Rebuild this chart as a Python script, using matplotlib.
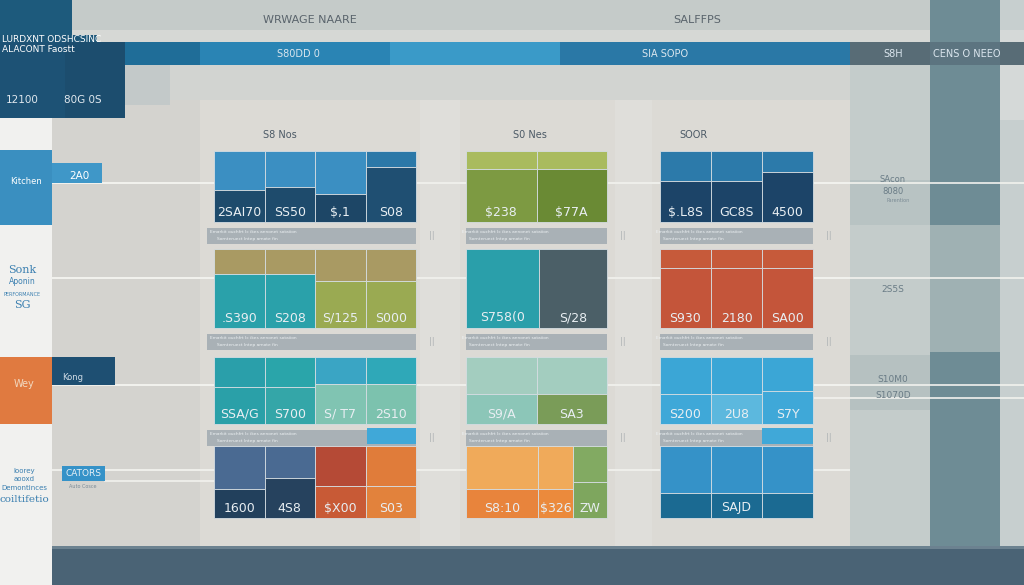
import matplotlib
matplotlib.use('Agg')
import matplotlib.pyplot as plt
from matplotlib.patches import Rectangle

# Dados dos painéis (linha, coluna): rótulos, parte inferior (%), larguras relativas, cores
panel_labels = {
    (0, 0): ['2SAI70', 'SS50', '$,1', 'S08'],
    (0, 1): ['$238', '$77A'],
    (0, 2): ['$.L8S', 'GC8S', '4500'],
    (1, 0): ['.S390', 'S208', 'S/125', 'S000'],
    (1, 1): ['S758(0', 'S/28'],
    (1, 2): ['S930', '2180', 'SA00'],
    (2, 0): ['SSA/G', 'S700', 'S/ T7', '2S10'],
    (2, 1): ['S9/A', 'SA3'],
    (2, 2): ['S200', '2U8', 'S7Y'],
    (3, 0): ['1600', '4S8', '$X00', 'S03'],
    (3, 1): ['S8:10', '$326', 'ZW'],
    (3, 2): ['', 'SAJD', ''],
}
panel_lower = {
    (0, 0): [45, 49, 40, 78],
    (0, 1): [74, 74],
    (0, 2): [58, 58, 70],
    (1, 0): [68, 68, 60, 60],
    (1, 1): [100, 100],
    (1, 2): [76, 76, 76],
    (2, 0): [55, 55, 60, 60],
    (2, 1): [45, 45],
    (2, 2): [45, 45, 50],
    (3, 0): [40, 55, 45, 45],
    (3, 1): [40, 40, 50],
    (3, 2): [35, 35, 35],
}
panel_widths = {
    (1, 1): [0.52, 0.48],
    (3, 1): [0.51, 0.25, 0.24],
}
panel_top_colors = {
    (0, 0): ['#3b8fc2', '#3b8fc2', '#3b8fc2', '#2b78a8'],
    (0, 1): ['#a9bb5e', '#a9bb5e'],
    (0, 2): ['#2c7aaa', '#2c7aaa', '#2c7aaa'],
    (1, 0): ['#a99a63', '#a99a63', '#a99a63', '#a99a63'],
    (1, 1): ['#2a9faa', '#4b5f67'],
    (1, 2): ['#c65a3a', '#c65a3a', '#c65a3a'],
    (2, 0): ['#2a9faa', '#2aa5aa', '#3aa5c4', '#2fa8b8'],
    (2, 1): ['#a3cdbf', '#a3cdbf'],
    (2, 2): ['#3ba6d6', '#3ba6d6', '#3ba6d6'],
    (3, 0): ['#4a6a92', '#4a6a92', '#b54a36', '#e07c3a'],
    (3, 1): ['#f0aa5a', '#f0aa5a', '#82aa62'],
    (3, 2): ['#3592c8', '#3592c8', '#3592c8'],
}
panel_bottom_colors = {
    (0, 0): ['#1e4b6c', '#1e4b6c', '#1d4666', '#1f4f72'],
    (0, 1): ['#7d9a42', '#6a8a34'],
    (0, 2): ['#1c4468', '#1c4468', '#1c4468'],
    (1, 0): ['#2aa1aa', '#2aa1aa', '#9aaa52', '#9aaa52'],
    (1, 1): ['#2a9faa', '#4b5f67'],
    (1, 2): ['#c4553a', '#c4553a', '#c4553a'],
    (2, 0): ['#2aa0a8', '#34a6a8', '#80c4b2', '#7cc2ae'],
    (2, 1): ['#8cc6b8', '#7a9c58'],
    (2, 2): ['#3fa8d8', '#5cb8de', '#3fa8d8'],
    (3, 0): ['#22405c', '#26425e', '#c85a36', '#e2823c'],
    (3, 1): ['#e8843c', '#eb8a3c', '#7ea65e'],
    (3, 2): ['#1b6a92', '#1b6a92', '#1b6a92'],
}

col_titles = ['S8 Nos', 'S0 Nes', 'SOOR']
header_titles = ['WRWAGE NAARE', 'SALFFPS']
header_bar_texts = ['S80DD 0', 'SIA SOPO', 'S8H', 'CENS O NEEO']
right_texts = ['SAcon', '8080', '2S5S', 'S10M0', 'S1070D']
left_texts = ['Kitchen', 'Sonk', 'Aponin', 'PERFORMANCE', 'SG', 'Wey',
              'Ioorey', 'aooxd', 'Demontinces', 'coiltifetio']

# Layout em pixels
COL_X = [(214, 416), (466, 607), (660, 813)]
ROW_Y = [(151, 222), (249, 328), (357, 424), (446, 518)]

fig = plt.figure(figsize=(10.24, 5.85), dpi=100)
ax = fig.add_axes([0, 0, 1, 1])
ax.set_xlim(0, 1024)
ax.set_ylim(585, 0)
ax.axis('off')

def rect(x0, y0, x1, y1, color, z=1, **kw):
    ax.add_patch(Rectangle((x0, y0), x1 - x0, y1 - y0, facecolor=color,
                           edgecolor='none', zorder=z, **kw))

# Fundo
rect(0, 0, 1024, 585, '#dcdad5', 0)
rect(0, 0, 1024, 30, '#c5cbc9', 0.5)
rect(0, 30, 1024, 42, '#d6d8d5', 0.5)
rect(125, 65, 1024, 100, '#d2d4d1', 0.5)
rect(125, 65, 170, 105, '#c3c9c9', 0.6)
for yy in [183, 278, 385, 470]:
    rect(52, yy - 1, 1024, yy + 1, '#eeeeea', 0.7)
rect(52, 100, 200, 548, '#d4d3cf', 0.55)
rect(420, 100, 460, 548, '#dfdeda', 0.55)
rect(615, 100, 652, 548, '#dfdeda', 0.55)

# Colunas à direita
rect(850, 65, 930, 548, '#c4cccb', 0.8)
rect(850, 180, 930, 225, '#b8c3c3', 0.85)
rect(850, 355, 930, 410, '#b6c1c1', 0.85)
rect(930, 0, 1000, 585, '#6e8c95', 0.9)
rect(930, 225, 1000, 352, '#9fb1b3', 0.95)
rect(1000, 0, 1024, 585, '#c7cfcf', 0.9)
rect(1000, 30, 1024, 120, '#d5d9d8', 0.95)

# Barra do cabeçalho
rect(0, 42, 560, 65, '#1f6d98', 2)
rect(200, 42, 560, 65, '#2a84b4', 2.1)
rect(390, 42, 560, 65, '#3a9ac8', 2.2)
rect(560, 42, 850, 65, '#2a78a6', 2)
rect(850, 42, 1024, 65, '#586c76', 2)
rect(930, 42, 1000, 65, '#5c7480', 2.1)

# Bloco superior esquerdo
rect(0, 0, 72, 42, '#1d5a7c', 2)
rect(0, 35, 97, 45, '#1c5678', 2.3)
rect(0, 42, 125, 118, '#1c4d6e', 2.4)
rect(0, 42, 65, 118, '#1d5275', 2.5)
ax.text(2, 39, 'LURDXNT ODSHCSINC', color='white', fontsize=6.5, va='center', zorder=5)
ax.text(2, 50, 'ALACONT Faostt', color='white', fontsize=6.5, va='center', zorder=5)
ax.text(22, 100, '12100', color='#e0e8ee', fontsize=7.5, va='center', ha='center', zorder=5)
ax.text(83, 100, '80G 0S', color='#e0e8ee', fontsize=7.5, va='center', ha='center', zorder=5)

# Títulos
ax.text(310, 20, header_titles[0], color='#5a646c', fontsize=8, ha='center', va='center', zorder=5)
ax.text(697, 20, header_titles[1], color='#5a646c', fontsize=8, ha='center', va='center', zorder=5)
for x, t in zip([298, 665, 893, 967], header_bar_texts):
    ax.text(x, 54, t, color='#dbe6ee', fontsize=7, ha='center', va='center', zorder=5)
for x, t in zip([280, 530, 693], col_titles):
    ax.text(x, 135, t, color='#4c5a66', fontsize=7, ha='center', va='center', zorder=5)

# Coluna branca à esquerda e caixas
rect(0, 118, 52, 585, '#f1f1ef', 1.5)
rect(0, 150, 52, 225, '#3a8fc0', 3)
rect(52, 163, 102, 183, '#3f97c8', 3)
rect(0, 357, 52, 424, '#e07a40', 3)
rect(52, 357, 115, 385, '#1e4f72', 3)
rect(62, 466, 105, 481, '#3592c8', 3)
ax.text(26, 181, left_texts[0], color='white', fontsize=6, ha='center', va='center', zorder=5)
ax.text(79, 176, '2A0', color='white', fontsize=7.5, ha='center', va='center', zorder=5)
ax.text(22, 270, left_texts[1], color='#3a7fb0', fontsize=8, ha='center', va='center', zorder=5, family='DejaVu Serif')
ax.text(22, 282, left_texts[2], color='#3a7fb0', fontsize=5.5, ha='center', va='center', zorder=5)
ax.text(22, 294, left_texts[3], color='#3a7fb0', fontsize=3.5, ha='center', va='center', zorder=5)
ax.text(22, 305, left_texts[4], color='#3a7fb0', fontsize=8, ha='center', va='center', zorder=5, family='DejaVu Serif')
ax.text(24, 384, left_texts[5], color='#f2d9c0', fontsize=7, ha='center', va='center', zorder=5)
ax.text(73, 378, 'Kong', color='#d0dce6', fontsize=6, ha='center', va='center', zorder=5)
ax.text(24, 471, left_texts[6], color='#3a7fb0', fontsize=5, ha='center', va='center', zorder=5)
ax.text(24, 479, left_texts[7], color='#3a7fb0', fontsize=5, ha='center', va='center', zorder=5)
ax.text(24, 488, left_texts[8], color='#3a7fb0', fontsize=5, ha='center', va='center', zorder=5)
ax.text(24, 499, left_texts[9], color='#3a7fb0', fontsize=7.5, ha='center', va='center', zorder=5, family='DejaVu Serif')
ax.text(83, 474, 'CATORS', color='#e8f0f6', fontsize=6.5, ha='center', va='center', zorder=5)
ax.text(83, 487, 'Auto Cosce', color='#7a8a96', fontsize=3.5, ha='center', va='center', zorder=5)

# Textos à direita
for y, t, fs in zip([180, 192, 290, 380, 396], right_texts, [6, 6, 6.5, 6.5, 6.5]):
    ax.text(893, y, t, color='#6a7c86', fontsize=fs, ha='center', va='center', zorder=5)
ax.text(898, 201, 'Parention', color='#7a8a94', fontsize=3.5, ha='center', va='center', zorder=5)

# Painéis de barras
for (r, c), labels in panel_labels.items():
    x0, x1 = COL_X[c]
    y0, y1 = ROW_Y[r]
    h = y1 - y0
    n = len(labels)
    widths = panel_widths.get((r, c), [1.0 / n] * n)
    lefts = [x0 + (x1 - x0) * sum(widths[:i]) for i in range(n)]
    ws = [(x1 - x0) * w for w in widths]
    lower_h = [h * v / 100.0 for v in panel_lower[(r, c)]]
    split = [y1 - lh for lh in lower_h]
    ax.bar(lefts, [s - y0 for s in split], width=ws, bottom=y0, align='edge',
           color=panel_top_colors[(r, c)], edgecolor='#d5dde2', linewidth=0.6, zorder=3)
    ax.bar(lefts, lower_h, width=ws, bottom=split, align='edge',
           color=panel_bottom_colors[(r, c)], edgecolor='#d5dde2', linewidth=0.6, zorder=3)
    for lx, w, t in zip(lefts, ws, labels):
        ax.text(lx + w / 2, y1 - 10, t, color='#e8eef2', fontsize=9,
                ha='center', va='center', zorder=5)
    # faixas cinzentas de legenda por baixo
    if r < 3:
        rect(x0 - (7 if c == 0 else 0), y1 + 6, x1, y1 + 22, '#a9b1b6', 3)
        ax.text(x0 - 4, y1 + 10, 'Emarkit ouchfrt lc ikes annonet sotaiion', color='#eef2f4',
                fontsize=3.2, va='center', zorder=5)
        ax.text(x0 + 3, y1 + 17, 'Sornteruect Intep arnote fin', color='#eef2f4',
                fontsize=3.2, va='center', zorder=5)
        ax.text(x1 + 16, y1 + 14, '||', color='#b0b4b6', fontsize=6, ha='center',
                va='center', zorder=5)
rect(367, 428, 416, 444, '#40a8d8', 3.5)
rect(762, 428, 813, 444, '#40a8d8', 3.5)

# Linhas horizontais que saem dos painéis
for (a, b, y) in [(52, 214, 183), (813, 1024, 183), (52, 214, 278),
                  (813, 1024, 278), (115, 214, 385), (813, 1024, 385),
                  (105, 214, 481), (813, 1024, 398)]:
    ax.plot([a, b], [y, y], color='#f2f2ee', lw=1.2, zorder=2.9)

# Barra inferior
rect(52, 548, 1024, 585, '#4a6375', 4)
rect(52, 546, 1024, 549, '#6c8290', 4)

plt.savefig('out.png', dpi=100)
